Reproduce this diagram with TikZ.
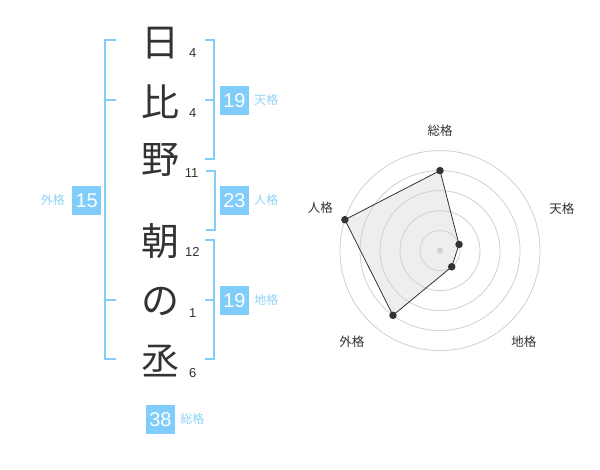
\documentclass[tikz,border=0pt]{standalone}
\usepackage{fontspec}
\setmainfont{Liberation Sans}
\newfontfamily\jpfont{Noto Sans CJK JP}
\usetikzlibrary{positioning}

\definecolor{scoreblue}{HTML}{80CCFA}
\definecolor{bracketblue}{HTML}{84CDF7}
\definecolor{labelblue}{HTML}{8FD2F7}
\definecolor{inkgray}{HTML}{333333}
\definecolor{ringgray}{HTML}{D0D0D0}
\definecolor{areagray}{HTML}{EEEEEE}

\begin{document}
\begin{tikzpicture}[
    x=1pt, y=-1pt,
    % Name characters
    kanji/.style={
        inner sep=0pt, text=inkgray,
        font=\jpfont\fontsize{38}{38}\selectfont
    },
    % Stroke counts
    strokes/.style={
        inner sep=0pt, text=inkgray,
        font=\fontsize{13}{13}\selectfont
    },
    % Bracket lines
    bracket/.style={
        draw=bracketblue, line width=2pt
    },
    % Score boxes
    score box/.style={
        rectangle, fill=scoreblue, text=white,
        minimum size=29pt, inner sep=0pt,
        font=\fontsize{20}{20}\selectfont
    },
    % Score labels
    score label/.style={
        inner sep=0pt, text=labelblue,
        font=\jpfont\fontsize{12}{12}\selectfont
    },
    % Radar chart
    ring/.style={draw=ringgray, line width=0.8pt},
    axis label/.style={
        inner sep=0pt, text=inkgray,
        font=\jpfont\fontsize{12.5}{12.5}\selectfont
    },
    marker/.style={circle, fill=inkgray, inner sep=0pt, minimum size=7.5pt}
]
\useasboundingbox (0,0) rectangle (600,470);

% --- Name characters ---
\node[kanji] (hi)   at (160, 43.5)  {日};
\node[kanji] (bi)   at (160, 101.5) {比};
\node[kanji] (no)   at (160, 160)   {野};
\node[kanji] (asa)  at (160, 241.5) {朝};
\node[kanji] (kana) at (160, 301.5) {の};
\node[kanji] (suke) at (160, 361.5) {丞};

% --- Stroke counts ---
\node[strokes] (n1) at (192.7, 53.3)  {4};
\node[strokes] (n2) at (192.7, 113.3) {4};
\node[strokes] (n3) at (191.7, 172.7) {11};
\node[strokes] (n4) at (192.3, 252.3) {12};
\node[strokes] (n5) at (192.7, 313.3) {1};
\node[strokes] (n6) at (192.7, 373.3) {6};

% --- Brackets ---
% Outer (left)
\draw[bracket] (115.7, 40) -| (105, 359.3) -- (115.7, 359.3);
\draw[bracket] (105, 100) -- (115.7, 100);
\draw[bracket] (105, 300) -- (115.7, 300);
% Heaven (right, top)
\draw[bracket] (205, 40) -| (214.3, 159.3) -- (205, 159.3);
\draw[bracket] (205, 100) -- (214.3, 100);
% Person (right, middle)
\draw[bracket] (205.7, 170.7) -| (214.8, 230) -- (205.7, 230);
% Earth (right, bottom)
\draw[bracket] (205, 240) -| (214.3, 359.3) -- (205, 359.3);
\draw[bracket] (205, 300) -- (214.3, 300);

% --- Scores ---
\node[score box] (ten)  at (234.5, 100.3) {19};
\node[score label, right=5pt of ten] (tenl) {天格};
\node[score box] (jin)  at (234.5, 200.3) {23};
\node[score label, right=5pt of jin] (jinl) {人格};
\node[score box] (chi)  at (234.5, 300.3) {19};
\node[score label, right=5pt of chi] (chil) {地格};
\node[score box] (gai)  at (86.7, 200.3) {15};
\node[score label, left=7pt of gai] (gail) {外格};
\node[score box] (sou)  at (160.5, 419.3) {38};
\node[score label, right=5pt of sou] (soul) {総格};

% --- Radar chart ---
\begin{scope}[shift={(440, 250.6)}, y=1pt]
    \coordinate (psou) at (90:80);
    \coordinate (pten) at (18:20);
    \coordinate (pchi) at (-54:20);
    \coordinate (pgai) at (-126:80);
    \coordinate (pjin) at (162:100);

    \fill[areagray] (psou) -- (pten) -- (pchi) -- (pgai) -- (pjin) -- cycle;
    \foreach \r in {20, 40, 60, 80, 100}
        \draw[ring] (0,0) circle (\r);
    \fill[ringgray] (0,0) circle (3.2);

    \draw[draw=inkgray, line width=0.8pt]
        (psou) -- (pten) -- (pchi) -- (pgai) -- (pjin) -- cycle;
    \foreach \p in {psou, pten, pchi, pgai, pjin}
        \node[marker] at (\p) {};

    \node[axis label] (asou) at (90:120)    {総格};
    \node[axis label] (aten) at (19:129)    {天格};
    \node[axis label] (achi) at (-47.4:124) {地格};
    \node[axis label] (agai) at (-134:127)  {外格};
    \node[axis label] (ajin) at (160.5:127) {人格};
\end{scope}

\end{tikzpicture}
\end{document}
